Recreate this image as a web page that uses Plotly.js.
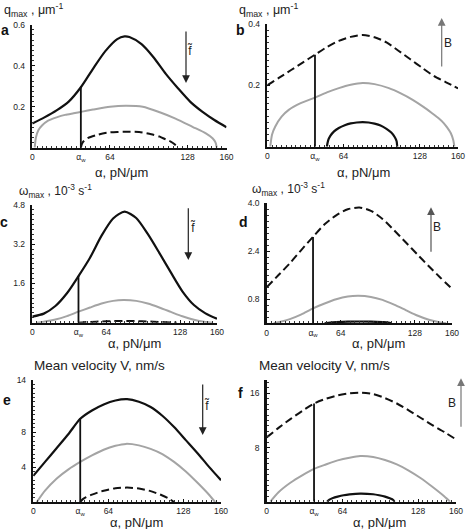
<!DOCTYPE html>
<html>
<head>
<meta charset="utf-8">
<script src="https://cdn.plot.ly/plotly-3.0.1.min.js"></script>
<style>html,body{margin:0;padding:0;background:#fff}#chart{width:467px;height:529px}</style>
</head>
<body>
<div id="chart"></div>
<script>
// ---------------- data ----------------
const alphaW = 40;
const xTickVals = [0, 40, 64, 128, 160];
const xTickText = ['0', 'α<sub>w</sub>', '64', '128', '160'];

// panel a : q_max (um^-1), varying f~
const aBlackX = [0,10,20,30,40,50,60,70,76,80,90,100,110,120,130,140,150,160];
const aBlackY = [0.118,0.148,0.182,0.225,0.295,0.385,0.47,0.53,0.543,0.54,0.505,0.44,0.36,0.29,0.225,0.176,0.135,0.10];
const aGrayX = [2,3,5,8,13,20,27,34,41,50,64,77,91,105,118,132,143,148.5,151,152];
const aGrayY = [0,0.05,0.085,0.108,0.132,0.148,0.16,0.168,0.176,0.186,0.2,0.205,0.2,0.173,0.142,0.102,0.07,0.046,0.025,0];
const aDashX = [40,41,42.5,46,52,60,64,70,78,88,98,105,110,114,117,120];
const aDashY = [0,0.02,0.033,0.048,0.06,0.072,0.075,0.077,0.078,0.076,0.066,0.054,0.04,0.03,0.018,0];

// panel b : q_max (um^-1), varying B
const bDashX = [0,10,20,30,40,50,60,70,80,90,100,110,120,130,140,150,160];
const bDashY = [0.2,0.225,0.25,0.275,0.3,0.325,0.345,0.358,0.364,0.357,0.34,0.313,0.285,0.257,0.23,0.21,0.19];
const bGrayX = [2.5,4,6.7,12,18,28,40,50,60,70,80,90,102,112,122,131,138,144,148,151,154,156,157];
const bGrayY = [0,0.04,0.066,0.098,0.12,0.142,0.16,0.177,0.191,0.202,0.208,0.204,0.191,0.174,0.153,0.13,0.11,0.092,0.077,0.062,0.044,0.022,0];
const bBlackX = [50,51,53,56,60,65,70,75,80,85,90,95,100,104,107,108.5,109];
const bBlackY = [0,0.02,0.036,0.05,0.061,0.07,0.076,0.079,0.08,0.079,0.075,0.069,0.058,0.046,0.031,0.018,0];

// panel c : omega_max (1e-3 s^-1), varying f~
const cBlackX = [0,10,20,30,40,50,60,70,80,90,100,110,120,130,140,150,160];
const cBlackY = [0.25,0.37,0.68,1.2,1.9,2.65,3.55,4.25,4.53,4.27,3.62,2.85,2.05,1.28,0.72,0.38,0.16];
const cGrayX = [4,10,20,30,40,50,60,70,79,90,100,110,120,130,140,150,156];
const cGrayY = [0,0.04,0.13,0.27,0.45,0.62,0.78,0.89,0.925,0.89,0.78,0.62,0.44,0.26,0.12,0.03,0];
const cDashX = [40,45,50,60,70,80,90,100,110,120,125];
const cDashY = [0,0.02,0.03,0.05,0.065,0.07,0.065,0.05,0.03,0.01,0];

// panel d : omega_max (1e-3 s^-1), varying B
const dDashX = [0,10,20,30,40,50,60,70,80,90,100,110,120,130,140,150,160];
const dDashY = [1.2,1.6,2.0,2.45,2.88,3.3,3.6,3.8,3.86,3.75,3.48,3.1,2.7,2.3,1.9,1.52,1.15];
const dGrayX = [6,12,20,30,40,50,60,70,79,90,100,110,120,130,140,150,155];
const dGrayY = [0,0.05,0.14,0.3,0.5,0.66,0.8,0.89,0.915,0.88,0.78,0.62,0.44,0.26,0.12,0.03,0];
const dBlackX = [50,55,60,70,80,90,100,105,108];
const dBlackY = [0,0.025,0.038,0.055,0.06,0.055,0.038,0.025,0];

// panel e : mean velocity V (nm/s), varying f~
const eBlackX = [0,10,20,30,40,50,60,70,80,90,100,110,120,130,140,150,160];
const eBlackY = [3.0,4.6,6.2,7.8,9.55,10.5,11.2,11.65,11.8,11.5,10.9,9.9,8.6,7.1,5.6,4.0,2.5];
const eGrayX = [3,10,20,30,40,50,60,70,79,90,100,110,120,130,140,150,155];
const eGrayY = [0,1.3,2.7,3.75,4.6,5.35,6.0,6.45,6.67,6.5,6.1,5.5,4.6,3.5,2.2,0.8,0];
const eDashX = [40,42,45,50,60,70,80,90,100,110,116,120];
const eDashY = [0,0.3,0.55,0.85,1.3,1.58,1.65,1.55,1.25,0.75,0.35,0];

// panel f : mean velocity V (nm/s), varying B
const fDashX = [0,10,20,30,40,50,60,70,80,90,100,110,120,130,140,150,160];
const fDashY = [9.5,10.9,12.2,13.4,14.5,15.2,15.7,16.0,16.1,15.9,15.3,14.5,13.5,12.4,11.3,10.3,9.2];
const fGrayX = [3,10,20,30,40,50,60,70,79,90,100,110,120,130,140,150,155];
const fGrayY = [0,1.4,2.8,3.9,4.85,5.5,6.1,6.5,6.74,6.6,6.15,5.5,4.6,3.5,2.2,0.8,0];
const fBlackX = [51,53,56,60,65,70,79,90,95,100,104,107,108];
const fBlackY = [0,0.3,0.55,0.75,0.95,1.08,1.2,1.1,0.95,0.75,0.5,0.25,0];

// height of the alpha_w marker line in each panel
const wallTops = [0.298, 0.3, 1.9, 2.88, 9.6, 14.5];

// y tick values/labels per panel
const yTickVals = [[0.2,0.4,0.6],[0.2,0.4],[1.6,3.2,4.8],[0.8,2.4,4.0],[4,8,14],[8,16]];
const yTickText = [['0.2','0.4','0.6'],['0.2','0.4'],['1.6','3.2','4.8'],['0.8','2.4','4.0'],['4','8','14'],['8','16']];
const yRanges = [[0,0.6],[0,0.4],[0,4.8],[0,4.0],[0,14],[0,18]];
const yTitles = ['q<sub>max</sub> , μm<sup>-1</sup>','q<sub>max</sub> , μm<sup>-1</sup>',
  'ω<sub>max</sub> , 10<sup>-3</sup> s<sup>-1</sup>','ω<sub>max</sub> , 10<sup>-3</sup> s<sup>-1</sup>',
  'Mean velocity V, nm/s','Mean velocity V, nm/s'];
const panelLetters = ['a','b','c','d','e','f'];
const arrowLabels = ['f\u0303','B','f\u0303','B','f\u0303','B'];
const xTitle = 'α, pN/μm';

// ---------------- layout geometry (pixels) ----------------
const W = 467, H = 529;
const boxes = [ // [left, right, top, bottom] plot area in px
  [32.3, 226.5, 24.7, 147.7],
  [267.3, 458.0, 24.0, 146.7],
  [32.3, 217.0, 205.0, 322.7],
  [266.7, 452.0, 203.3, 323.3],
  [33.3, 221.0, 380.0, 502.0],
  [266.7, 456.0, 379.8, 501.7]
];
const xTitlePos = [[122,172],[363,172],[134,343.5],[378,343.5],[136,522],[379,522]];
const yMinorDtick = [0.025, 0.02, 0.2, 0.2, 0.5, 0.8];
const titlePos = [[2,10],[237,10],[17,191],[250,189],[32,365],[257,365]];
const titleSize = [12.5, 12.5, 12, 12, 13.5, 13.5];
const letterPos = [[5,30],[240,30],[4,222],[243,222],[7,400],[240,393]];
// arrows: x, tail y, head y, label x, label y, color
const arrows = [
  [186, 30, 83, 190, 50, '#222'],
  [441.7, 68, 18, 448, 43, '#777'],
  [188.3, 206.7, 260, 192.5, 227, '#222'],
  [431, 253.3, 207.3, 437, 227, '#555'],
  [202.7, 383, 435, 206.5, 405, '#222'],
  [461, 428.3, 378.3, 451.7, 403, '#777']
];

const px = x => x / W;
const py = y => 1 - y / H;

const BLACK = {color:'#111', width:2.2, shape:'spline', smoothing:0.7};
const GRAY = {color:'#a4a4a4', width:2, shape:'spline', smoothing:0.7};
const DASH = {color:'#111', width:2, dash:'8px,4px', shape:'spline', smoothing:0.7};
const WALL = {color:'#111', width:1.8};

const series = [
  [[aBlackX,aBlackY,BLACK],[aGrayX,aGrayY,GRAY],[aDashX,aDashY,DASH]],
  [[bDashX,bDashY,DASH],[bGrayX,bGrayY,GRAY],[bBlackX,bBlackY,BLACK]],
  [[cBlackX,cBlackY,BLACK],[cGrayX,cGrayY,GRAY],[cDashX,cDashY,DASH]],
  [[dDashX,dDashY,DASH],[dGrayX,dGrayY,GRAY],[dBlackX,dBlackY,BLACK]],
  [[eBlackX,eBlackY,BLACK],[eGrayX,eGrayY,GRAY],[eDashX,eDashY,DASH]],
  [[fDashX,fDashY,DASH],[fGrayX,fGrayY,GRAY],[fBlackX,fBlackY,BLACK]]
];

const FONT = 'Liberation Sans, Arial, sans-serif';
const traces = [];
const layout = {
  width: W, height: H,
  margin: {l:0, r:0, t:0, b:0},
  paper_bgcolor: '#fff', plot_bgcolor: 'rgba(0,0,0,0)',
  showlegend: false,
  font: {family: FONT, color: '#222'},
  annotations: []
};

for (let i = 0; i < 6; i++) {
  const n = i === 0 ? '' : String(i + 1);
  const xa = 'x' + n, ya = 'y' + n;
  const [l, r, t, b] = boxes[i];
  const ord = [1, 0, 2];
  ord.forEach(k => {
    const [xs, ys, st] = series[i][k];
    traces.push({type:'scatter', mode:'lines', x: xs, y: ys, xaxis: xa, yaxis: ya,
      line: Object.assign({}, st), hoverinfo:'skip'});
  });
  traces.push({type:'scatter', mode:'lines', x:[alphaW, alphaW], y:[0, wallTops[i]],
    xaxis: xa, yaxis: ya, line: WALL, hoverinfo:'skip'});

  layout['xaxis' + n] = {
    domain: [px(l), px(r)], anchor: ya, range: [0, 160],
    showline: true, linecolor: '#111', linewidth: 2,
    ticks: 'inside', ticklen: 3, tickwidth: 1, tickcolor: '#111',
    tickmode: 'array', tickvals: xTickVals, ticktext: xTickText,
    tickfont: {size: 8.5, family: FONT, color: '#222'},
    minor: {ticks: 'inside', ticklen: 2, tickwidth: 1, tickcolor: '#333', dtick: 4, tick0: 0, showgrid: false},
    showgrid: false, zeroline: false, automargin: false, fixedrange: true
  };
  layout['yaxis' + n] = {
    domain: [py(b), py(t)], anchor: xa, range: yRanges[i],
    showline: true, linecolor: '#111', linewidth: 2.5,
    ticks: 'inside', ticklen: 3, tickwidth: 1, tickcolor: '#111',
    tickmode: 'array', tickvals: yTickVals[i], ticktext: yTickText[i],
    tickfont: {size: 8.5, family: FONT, color: '#222'},
    ticklabelstandoff: 3,
    minor: {ticks: 'inside', ticklen: 2, tickwidth: 1, tickcolor: '#333', dtick: yMinorDtick[i], tick0: 0, showgrid: false},
    showgrid: false, zeroline: false, automargin: false, fixedrange: true
  };

  layout.annotations.push({xref:'paper', yref:'paper', x: px(xTitlePos[i][0]), y: py(xTitlePos[i][1]),
    xanchor:'center', yanchor:'middle', showarrow:false, text: xTitle,
    font:{size: 13, family: FONT, color:'#222'}});
  layout.annotations.push({xref:'paper', yref:'paper', x: px(titlePos[i][0]), y: py(titlePos[i][1]),
    xanchor:'left', yanchor:'middle', showarrow:false, text: yTitles[i],
    font:{size: titleSize[i], family: FONT, color:'#222'}});
  layout.annotations.push({xref:'paper', yref:'paper', x: px(letterPos[i][0]), y: py(letterPos[i][1]),
    xanchor:'center', yanchor:'middle', showarrow:false, text: '<b>' + panelLetters[i] + '</b>',
    font:{size: 14, family: FONT, color:'#111'}});
  const [ax_, tail, head, lx, ly, col] = arrows[i];
  layout.annotations.push({xref:'paper', yref:'paper', x: px(ax_), y: py(head),
    ax: 0, ay: tail - head, axref:'pixel', ayref:'pixel', text:'', showarrow:true,
    arrowhead: 2, arrowsize: 1.3, arrowwidth: 1.2, arrowcolor: col, standoff: 0});
  layout.annotations.push({xref:'paper', yref:'paper', x: px(lx), y: py(ly),
    xanchor:'center', yanchor:'middle', showarrow:false, text: arrowLabels[i],
    font:{size: 12, family: FONT, color:'#222'}});
}

Plotly.newPlot('chart', traces, layout, {staticPlot: true, displayModeBar: false});
</script>
</body>
</html>
